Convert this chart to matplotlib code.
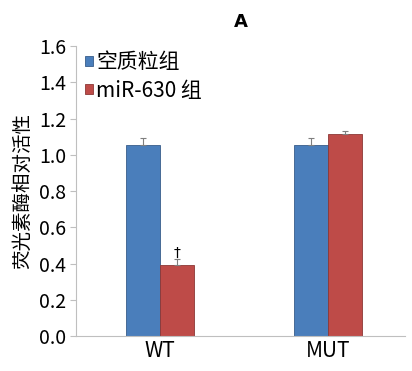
import matplotlib.pyplot as plt
import numpy as np

plt.rcParams['font.family'] = ['Noto Sans CJK SC', 'DejaVu Sans']

groups = ['WT', 'MUT']
empty_vals = [1.055, 1.052]
empty_err = [0.04, 0.04]
mir_vals = [0.393, 1.112]
mir_err = [0.03, 0.02]
yticks = [0.0, 0.2, 0.4, 0.6, 0.8, 1.0, 1.2, 1.4, 1.6]

blue = '#4A7EBB'
red = '#BE4B48'
grey = '#BFBFBF'

fig = plt.figure(figsize=(4.12, 3.71), dpi=100)
ax = fig.add_axes([0.184, 0.094, 0.799, 0.782])

x = np.arange(len(groups))
w = 0.202
ax.bar(x - w / 2, empty_vals, w, color=blue, edgecolor='#385D8A', linewidth=0.6, label='空质粒组')
ax.bar(x + w / 2, mir_vals, w, color=red, edgecolor='#8C3836', linewidth=0.6, label='miR-630 组')
ax.errorbar(x - w / 2, empty_vals, yerr=[[0, 0], empty_err], fmt='none',
            ecolor='#7F7F7F', elinewidth=0.8, capsize=2, capthick=0.8)
ax.errorbar(x + w / 2, mir_vals, yerr=[[0, 0], mir_err], fmt='none',
            ecolor='#7F7F7F', elinewidth=0.8, capsize=2, capthick=0.8)
ax.text(x[0] + w / 2, mir_vals[0] + 0.03, '†', ha='center', va='bottom',
        fontsize=10, family='DejaVu Sans')

ax.set_xlim(-0.5, 1.458)
ax.set_ylim(0, 1.6)
ax.set_yticks(yticks)
ax.set_yticklabels([f'{v:.1f}' for v in yticks], fontsize=14)
ax.set_xticks(x)
ax.set_xticklabels(groups, fontsize=15)
ax.tick_params(axis='x', length=0, pad=3)
ax.tick_params(axis='y', length=4, color=grey, pad=3)
for s in ['top', 'right']:
    ax.spines[s].set_visible(False)
ax.spines['left'].set_color(grey)
ax.spines['bottom'].set_color(grey)

ax.set_ylabel('荧光素酶相对活性', fontsize=14, labelpad=4)
ax.set_title('A', fontsize=13, fontweight='bold', pad=14, family='DejaVu Sans')

ax.legend(loc='upper left', bbox_to_anchor=(-0.01, 1.025), frameon=False, fontsize=15,
          handlelength=0.4, handleheight=0.4, handletextpad=0.15, labelspacing=0.3,
          borderaxespad=0.2)

fig.savefig('out.png', dpi=100)
